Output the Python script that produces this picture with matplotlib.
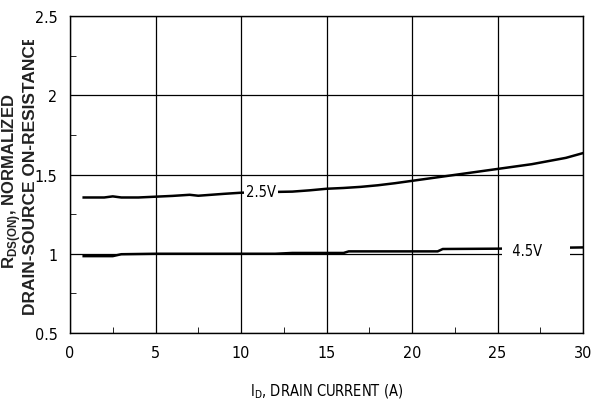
import numpy as np
import matplotlib
matplotlib.use('Agg')
import matplotlib.pyplot as plt
from matplotlib.transforms import Bbox

# normalized on-resistance vs drain current
current_25v = [0.8, 2.0, 2.5, 3.0, 4.0, 5.0, 6.0, 7.0, 7.5, 8.0, 9.0, 10.0, 12.0, 13.0,
               14.0, 15.0, 16.0, 17.0, 18.0, 19.0, 20.0, 21.0, 22.0, 23.0, 24.0, 25.0,
               26.0, 27.0, 28.0, 29.0, 30.0]
rds_25v = [1.355, 1.355, 1.362, 1.355, 1.355, 1.36, 1.365, 1.372, 1.366, 1.37, 1.378, 1.385,
           1.39, 1.392, 1.40, 1.41, 1.415, 1.422, 1.432, 1.445, 1.46, 1.475, 1.49, 1.505,
           1.52, 1.535, 1.55, 1.565, 1.585, 1.605, 1.635]

current_45v = [0.8, 2.5, 3.0, 5.0, 12.0, 13.0, 16.0, 16.3, 21.5, 21.8, 25.0, 30.0]
rds_45v = [0.985, 0.985, 0.997, 1.0, 1.0, 1.005, 1.005, 1.015, 1.015, 1.03, 1.032, 1.04]

x_ticks = [0, 5, 10, 15, 20, 25, 30]
y_ticks = [0.5, 1, 1.5, 2, 2.5]

cond = dict(family='DejaVu Sans', stretch='condensed')

fig = plt.figure(figsize=(5.91, 4.10), dpi=100)
ax = fig.add_axes([70 / 591, 76 / 410, 513 / 591, 317 / 410])

ax.plot(current_25v, rds_25v, color='black', lw=1.8, zorder=3)
ax.plot(current_45v, rds_45v, color='black', lw=1.8, zorder=3)

ax.text(10.3, 1.395, '2.5V', fontsize=10.5, va='center', ha='left',
        bbox=dict(fc='white', ec='none', pad=1.5), zorder=4, **cond)
ax.text(25.4, 1.02, '  4.5V      ', fontsize=10.5, va='center', ha='left',
        bbox=dict(fc='white', ec='none', pad=2.0), zorder=4, **cond)

ax.set_xlim(0, 30)
ax.set_ylim(0.5, 2.5)
ax.set_xticks(x_ticks)
ax.set_yticks(y_ticks)
ax.set_xticklabels([str(t) for t in x_ticks])
ax.set_yticklabels(['0.5', '1', '1.5', '2', '2.5'])
ax.set_xticks(np.arange(2.5, 30, 5), minor=True)
ax.set_yticks(np.arange(0.75, 2.5, 0.5), minor=True)
ax.tick_params(which='major', length=0, labelsize=11.5, pad=9)
ax.tick_params(which='minor', direction='in', length=4, width=0.6)
for lab in ax.get_xticklabels() + ax.get_yticklabels():
    lab.set_family('DejaVu Sans')
    lab.set_stretch('condensed')

ax.grid(True, which='major', color='black', lw=0.9)
for sp in ax.spines.values():
    sp.set_linewidth(1.0)

ax.set_xlabel(r'I$_\mathregular{D}$, DRAIN CURRENT (A)', fontsize=10.5, labelpad=15, **cond)

# two-line y label, clipped at the top
clip = Bbox.from_extents(0, 0, 591, 410 - 41)
t1 = fig.text(12 / 591, (410 - 181) / 410, r'R$_\mathregular{DS(ON)}$, NORMALIZED', rotation=90,
              fontsize=12, fontweight='bold', family='Liberation Sans',
              ha='center', va='center', color='#222222')
t2 = fig.text(31 / 591, (410 - 174) / 410, 'DRAIN-SOURCE ON-RESISTANCE', rotation=90,
              fontsize=12.5, fontweight='bold', family='Liberation Sans',
              ha='center', va='center', color='#222222')
t2.set_clip_box(clip)
t2.set_clip_on(True)

fig.savefig('out.png', dpi=100)
